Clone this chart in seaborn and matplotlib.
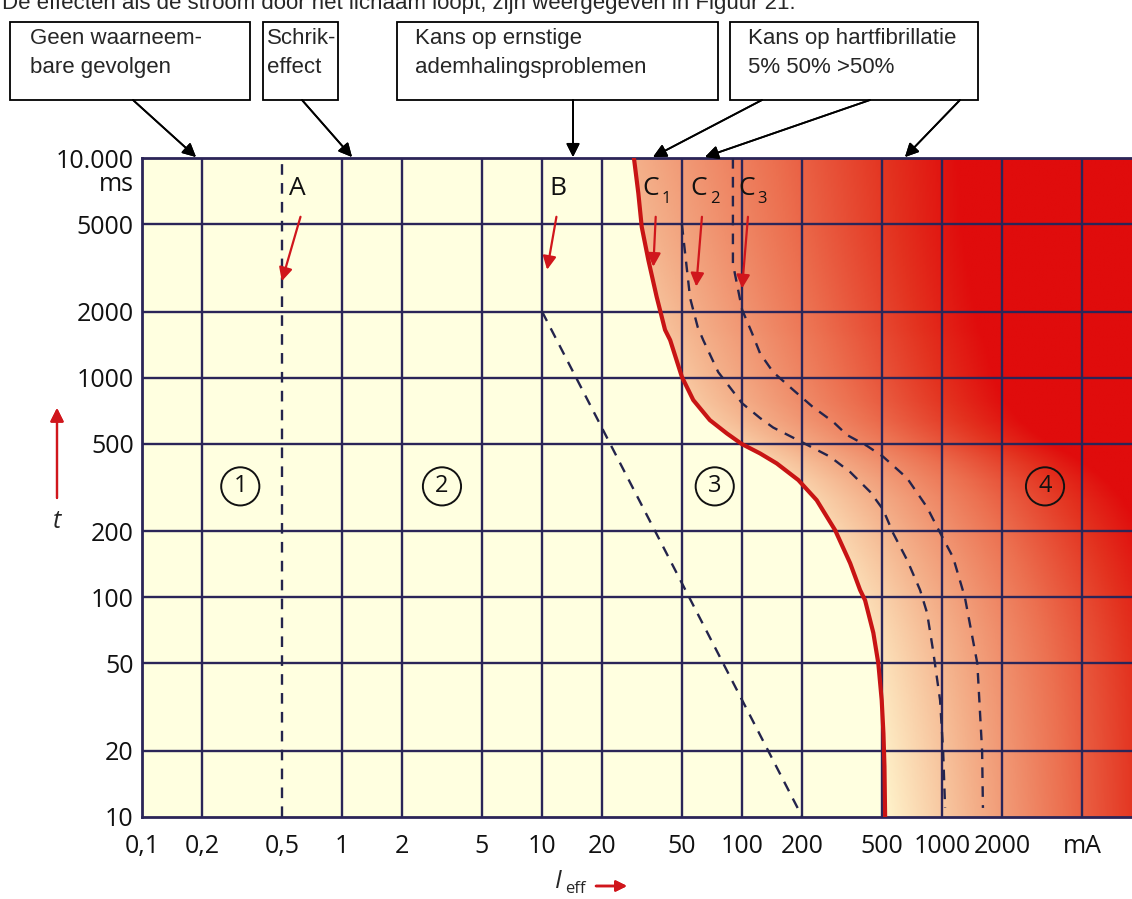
import numpy as np
import matplotlib
matplotlib.use("Agg")
import matplotlib.pyplot as plt
from matplotlib.colors import LinearSegmentedColormap
from matplotlib.patches import Rectangle
from matplotlib.transforms import blended_transform_factory
import seaborn as sns

# ---- data: current in mA, time in ms ----
x_ticks = [0.1, 0.2, 0.5, 1, 2, 5, 10, 20, 50, 100, 200, 500, 1000, 2000, 5000]
x_labels = ['0,1', '0,2', '0,5', '1', '2', '5', '10', '20', '50', '100', '200',
            '500', '1000', '2000', 'mA']
y_ticks = [10, 20, 50, 100, 200, 500, 1000, 2000, 5000, 10000]
y_labels = ['10', '20', '50', '100', '200', '500', '1000', '2000', '5000', '10.000']
x_grid = [0.2, 1, 2, 5, 10, 20, 50, 100, 200, 500, 1000, 2000, 5000]
y_grid = [20, 50, 100, 200, 500, 1000, 2000, 5000]

a_I = [0.5, 0.5]
a_t = [10, 10000]
b_I = [10, 200]
b_t = [2000, 10]
c1_I = [28.8, 30.3, 31.5, 34, 37.4, 41.2, 43.7, 50, 57, 69, 84, 99.6, 123, 149, 191, 236,
        292, 347, 389, 412, 453, 480, 499, 509, 515, 519]
c1_t = [10000, 6900, 4860, 3430, 2335, 1650, 1483, 1009, 791, 641, 557, 499, 452, 407, 342,
        277, 202, 143, 108, 97, 69, 50, 34, 24, 17, 10]
c2_I = [50, 55, 60, 64, 76, 100, 123, 143, 190, 275, 347, 437, 507, 569, 668, 776, 841,
        902, 977, 1012, 1035]
c2_t = [5000, 2300, 1700, 1480, 1060, 765, 655, 593, 520, 437, 372, 302, 251, 196, 148,
        108, 85, 57, 34, 20, 11]
c3_I = [90, 90, 100, 112, 123, 143, 180, 226, 285, 335, 420, 507, 668, 841, 944, 1135,
        1300, 1500, 1585, 1600]
c3_t = [10000, 3300, 2040, 1600, 1290, 1060, 880, 735, 630, 548, 490, 437, 349, 257, 209,
        152, 100, 50, 20, 11]

zone_names = ['1', '2', '3', '4']
zone_I = [0.31, 3.16, 73, 3270]
zone_t = [320, 320, 320, 320]

header_texts = ['Geen waarneem-\nbare gevolgen', 'Schrik-\neffect',
                'Kans op ernstige\nademhalingsproblemen',
                'Kans op hartfibrillatie\n5% 50% >50%']
top_line = 'De effecten als de stroom door het lichaam loopt, zijn weergegeven in Figuur 21.'

# ---- style ----
sns.set_style("white")
plt.rcParams['font.family'] = ['Open Sans', 'DejaVu Sans']
W, H = 1132, 899
grid_col = '#2b2558'
red = '#c81414'
xmin, xmax = 0.1, 8900
ymin, ymax = 10, 10000
hfont, hsize = ['Liberation Sans', 'DejaVu Sans'], 16

fig = plt.figure(figsize=(W / 100, H / 100), dpi=100)
rect = [142 / W, (H - 817) / H, (W - 142) / W, (817 - 158) / H]

# background gradient, driven by the distance to curve C1
bg = fig.add_axes(rect, zorder=0)
lx = np.linspace(np.log10(xmin), np.log10(xmax), 700)
ly = np.linspace(np.log10(ymin), np.log10(ymax), 500)
LX, LY = np.meshgrid(lx, ly)
c1_lim = np.interp(LY, np.log10(c1_t[::-1]), np.log10(c1_I[::-1]))
d = np.clip(LX - c1_lim, 0, None)
frac = np.clip(0.1 * (LY - 1) + (0.67 - 0.08 * (LY - 1)) * d, 0, 1)
cmap = LinearSegmentedColormap.from_list(
    'heat', [(0, '#fff4cc'), (0.3, '#f4b08a'), (0.6, '#ec7050'), (0.85, '#e3321f'),
             (1, '#e00c0c')])
img = cmap(frac)[..., :3]
img[LX < c1_lim] = np.array([1.0, 1.0, 0.88])
bg.imshow(img, origin='lower', aspect='auto',
          extent=[lx[0], lx[-1], ly[0], ly[-1]], interpolation='bilinear')
bg.axis('off')

ax = fig.add_axes(rect, zorder=1)
ax.patch.set_alpha(0)
ax.set_xscale('log')
ax.set_yscale('log')
ax.set_xlim(xmin, xmax)
ax.set_ylim(ymin, ymax)

for v in x_grid:
    ax.axvline(v, color=grid_col, lw=1.7, zorder=1)
for v in y_grid:
    ax.axhline(v, color=grid_col, lw=1.7, zorder=1)

dash_col = '#24244c'
dash = (0, (4.5, 3.5))
for xs, ys in [(a_I, a_t), (b_I, b_t), (c2_I, c2_t), (c3_I, c3_t)]:
    sns.lineplot(x=xs, y=ys, sort=False, estimator=None, color=dash_col, lw=1.7,
                 linestyle=dash, ax=ax, zorder=3)
sns.lineplot(x=c1_I, y=c1_t, sort=False, estimator=None, color=red, lw=3,
             ax=ax, zorder=4)

ax.set_xticks(x_ticks)
ax.set_xticklabels(x_labels)
ax.set_yticks(y_ticks)
ax.set_yticklabels(y_labels)
ax.minorticks_off()
ax.tick_params(length=0, labelsize=18, colors='#111111')
ax.tick_params(axis='x', pad=12)
ax.tick_params(axis='y', pad=6)
ax.set_xlabel('')
ax.set_ylabel('')
for side in ['left', 'bottom', 'top']:
    ax.spines[side].set_color(grid_col)
    ax.spines[side].set_linewidth(2)
ax.spines['right'].set_visible(False)
ax.grid(False)

ax.annotate('ms', xy=(0, 10000), xycoords=blended_transform_factory(ax.transAxes, ax.transData),
            xytext=(-6, -19), textcoords='offset points', ha='right', va='center',
            fontsize=18, color='#111111')

# curve labels with red pointer arrows
arrow_kw = dict(arrowstyle='-|>', color='#d0161c', lw=1.6, mutation_scale=20,
                shrinkA=0, shrinkB=0)
labels = [('A', None, (0.6, 7300), (0.62, 5400), (0.5, 2750)),
          ('B', None, (12, 7300), (11.8, 5400), (10.6, 3100)),
          ('C', '1', (35, 7300), (37, 5400), (36, 3200)),
          ('C', '2', (61, 7300), (63, 5400), (59, 2600)),
          ('C', '3', (106, 7300), (107, 5400), (100, 2550))]
for main, sub, pos, tail, head in labels:
    ax.text(pos[0], pos[1], main, fontsize=19, ha='center', va='center', color='#111111', zorder=6)
    if sub:
        ax.annotate(sub, xy=pos, xytext=(11, -8), textcoords='offset points',
                    fontsize=12, ha='center', va='center', color='#111111', zorder=6)
    ax.annotate('', xy=head, xytext=tail, arrowprops=arrow_kw, zorder=6)

for name, zi, zt in zip(zone_names, zone_I, zone_t):
    ax.text(zi, zt, name, fontsize=17, ha='center', va='center', color='#111111', zorder=6,
            bbox=dict(boxstyle='circle,pad=0.3', fc='none', ec='#111111', lw=1.4))

# axis labels with red arrows
fig.text(57 / W, 1 - 521 / H, 't', fontsize=18, style='italic', ha='center', va='center')
fig.add_artist(plt.annotate('', xy=(57, H - 408), xytext=(57, H - 498), xycoords='figure pixels',
                            arrowprops=dict(arrowstyle='-|>', color='#d0161c', lw=1.6,
                                            mutation_scale=20, shrinkA=0, shrinkB=0)))
fig.text(558 / W, 1 - 881 / H, 'I', fontsize=18, style='italic', ha='center', va='center')
fig.text(565 / W, 1 - 889 / H, 'eff', fontsize=12, ha='left', va='center')
fig.add_artist(plt.annotate('', xy=(627, H - 886), xytext=(596, H - 886), xycoords='figure pixels',
                            arrowprops=dict(arrowstyle='-|>', color='#d0161c', lw=1.8,
                                            mutation_scale=16, shrinkA=0, shrinkB=0)))

# header boxes and pointers
fig.text(2 / W, 1 - 9 / H, top_line, fontsize=hsize, family=hfont, ha='left', va='baseline')
boxes = [(10, 22, 250, 100, 20), (263, 22, 338, 100, 4), (397, 22, 718, 100, 18),
         (730, 22, 978, 100, 18)]
for (x0, y0, x1, y1, off), txt in zip(boxes, header_texts):
    fig.add_artist(Rectangle((x0 / W, 1 - y1 / H), (x1 - x0) / W, (y1 - y0) / H,
                             transform=fig.transFigure, fc='white', ec='black', lw=1.3))
    fig.text((x0 + off) / W, 1 - 53 / H, txt, fontsize=hsize, family=hfont, ha='left',
             va='center', linespacing=1.5)
pointers = [((133, 100), (196, 157)), ((302, 100), (352, 157)), ((573, 100), (573, 157)),
            ((762, 100), (653, 157)), ((870, 100), (705, 157)), ((960, 100), (905, 157))]
for (tx, ty), (hx, hy) in pointers:
    fig.add_artist(plt.annotate('', xy=(hx, H - hy), xytext=(tx, H - ty), xycoords='figure pixels',
                                arrowprops=dict(arrowstyle='-|>', color='black', lw=1.3,
                                                mutation_scale=20, shrinkA=0, shrinkB=0)))

fig.savefig('out.png', dpi=100)
